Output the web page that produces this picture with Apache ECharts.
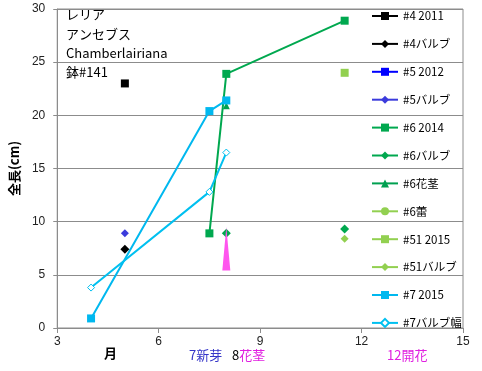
<!DOCTYPE html>
<html><head><meta charset="utf-8">
<script src="https://cdn.jsdelivr.net/npm/echarts@6/dist/echarts.min.js"></script>
<style>html,body{margin:0;padding:0;background:#fff}#c{width:482px;height:371px}</style>
</head><body><div id="c"></div>
<script>
var xTicks = [3, 6, 9, 12, 15];
var yTicks = [0, 5, 10, 15, 20, 25, 30];
var s4_2011 = [[5, 23]];
var s4_bulb = [[5, 7.4]];
var s5_2012 = [];
var s5_bulb = [[5, 8.9]];
var s6_2014 = [[7.5, 8.9], [8, 23.9], [11.5, 28.9]];
var s6_bulb = [[8, 8.9], [10, '-'], [11.5, 9.3]];
var s6_stem = [[8, 20.9]];
var s6_bud = [];
var s51_2015 = [[11.5, 24.0]];
var s51_bulb = [[11.5, 8.4]];
var s7_2015 = [[4, 0.9], [7.5, 20.4], [8, 21.4]];
var s7_bulbW = [[4, 3.8], [7.5, 12.8], [8, 16.5]];
var arrowData = [[8, 5.4, 9.5]];
var titleLines = ['レリア', 'アンセブス', 'Chamberlairiana', '鉢#141'];

var FONT = "'Liberation Sans','Noto Sans CJK JP',sans-serif";
var chart = echarts.init(document.getElementById('c'), null, {renderer: 'canvas'});

function ser(name, data, color, symbol, size, extra) {
  var s = {
    name: name, type: 'line', data: data, symbol: symbol, symbolSize: size,
    showSymbol: true, connectNulls: false, animation: false,
    lineStyle: {color: color, width: 2},
    itemStyle: {color: color},
    z: 3
  };
  if (extra) for (var k in extra) s[k] = extra[k];
  return s;
}

var names = ['#4 2011', '#4バルブ', '#5 2012', '#5バルブ', '#6 2014', '#6バルブ', '#6花茎', '#6蕾', '#51 2015', '#51バルブ', '#7 2015', '#7バルブ幅'];

var series = [
  ser(names[0], s4_2011, '#000000', 'rect', 8),
  ser(names[1], s4_bulb, '#000000', 'diamond', 9),
  ser(names[2], s5_2012, '#0000ff', 'rect', 8),
  ser(names[3], s5_bulb, '#3b3bdc', 'diamond', 8),
  ser(names[4], s6_2014, '#00a84f', 'rect', 8),
  ser(names[5], s6_bulb, '#00a84f', 'diamond', 9),
  ser(names[6], s6_stem, '#00a050', 'triangle', 7),
  ser(names[7], s6_bud, '#92d050', 'circle', 7),
  ser(names[8], s51_2015, '#92d050', 'rect', 8),
  ser(names[9], s51_bulb, '#92d050', 'diamond', 8),
  ser(names[10], s7_2015, '#00b8ef', 'rect', 8),
  ser(names[11], s7_bulbW, '#00c0f0', 'diamond', 7, {itemStyle: {color: '#ffffff', borderColor: '#00c0f0', borderWidth: 1}}),
  {
    type: 'custom', name: 'arrow', data: arrowData, z: 4, animation: false,
    renderItem: function (params, api) {
      var tip = api.coord([api.value(0), api.value(2)]);
      var base = api.coord([api.value(0), api.value(1)]);
      return {
        type: 'polygon',
        shape: {points: [[tip[0], tip[1]], [base[0] + 4, base[1]], [base[0] - 4, base[1]]]},
        style: {fill: '#ff55ee'}
      };
    }
  }
];

var graphics = [];
titleLines.forEach(function (t, i) {
  graphics.push({type: 'text', left: 66, top: 8 + i * 19.3,
    style: {text: t, font: "13px 'Noto Sans CJK JP',sans-serif", fill: '#000'}});
});
graphics.push({type: 'text', left: 104, top: 347,
  style: {text: '月', font: "bold 13px 'Noto Sans CJK JP',sans-serif", fill: '#000'}});
graphics.push({type: 'text', left: 189, top: 349,
  style: {text: '7新芽', font: "13px 'Noto Sans CJK JP',sans-serif", fill: '#3535c8'}});
graphics.push({type: 'text', left: 232, top: 349,
  style: {text: '{a|8}{b|花茎}', rich: {
    a: {font: "13px 'Noto Sans CJK JP',sans-serif", fill: '#000'},
    b: {font: "13px 'Noto Sans CJK JP',sans-serif", fill: '#e020e0'}}}});
graphics.push({type: 'text', left: 387, top: 349,
  style: {text: '12開花', font: "13px 'Noto Sans CJK JP',sans-serif", fill: '#e020e0'}});

chart.setOption({
  backgroundColor: '#fff',
  animation: false,
  grid: {left: 51, top: 9, right: 19, bottom: 43, show: true, borderColor: '#8c8c8c', borderWidth: 1},
  textStyle: {fontFamily: FONT},
  xAxis: {
    type: 'value', min: xTicks[0], max: xTicks[xTicks.length - 1], interval: 3,
    axisLine: {show: true, lineStyle: {color: '#8c8c8c'}},
    axisTick: {show: true, length: 5, lineStyle: {color: '#8c8c8c'}},
    axisLabel: {color: '#222', fontSize: 12, margin: 8, fontFamily: FONT},
    splitLine: {show: false}
  },
  yAxis: {
    type: 'value', min: yTicks[0], max: yTicks[yTicks.length - 1], interval: 5,
    name: '全長(cm)', nameLocation: 'middle', nameRotate: 90, nameGap: 33,
    nameTextStyle: {fontWeight: 'bold', fontSize: 13, color: '#000', fontFamily: "'Noto Sans CJK JP',sans-serif"},
    axisLine: {show: true, lineStyle: {color: '#8c8c8c'}},
    axisTick: {show: true, length: 4, lineStyle: {color: '#8c8c8c'}},
    axisLabel: {color: '#222', fontSize: 12, margin: 12, fontFamily: FONT},
    splitLine: {show: true, lineStyle: {color: '#8c8c8c', width: 1}}
  },
  legend: {
    data: names, orient: 'vertical', left: 371, top: 9,
    itemWidth: 26, itemHeight: 10, itemGap: 13.9,
    padding: 0,
    textStyle: {fontSize: 11.5, color: '#000', lineHeight: 14, fontFamily: "'Noto Sans CJK JP',sans-serif"},
    selectedMode: false
  },
  graphic: graphics,
  series: series
});
</script></body></html>
